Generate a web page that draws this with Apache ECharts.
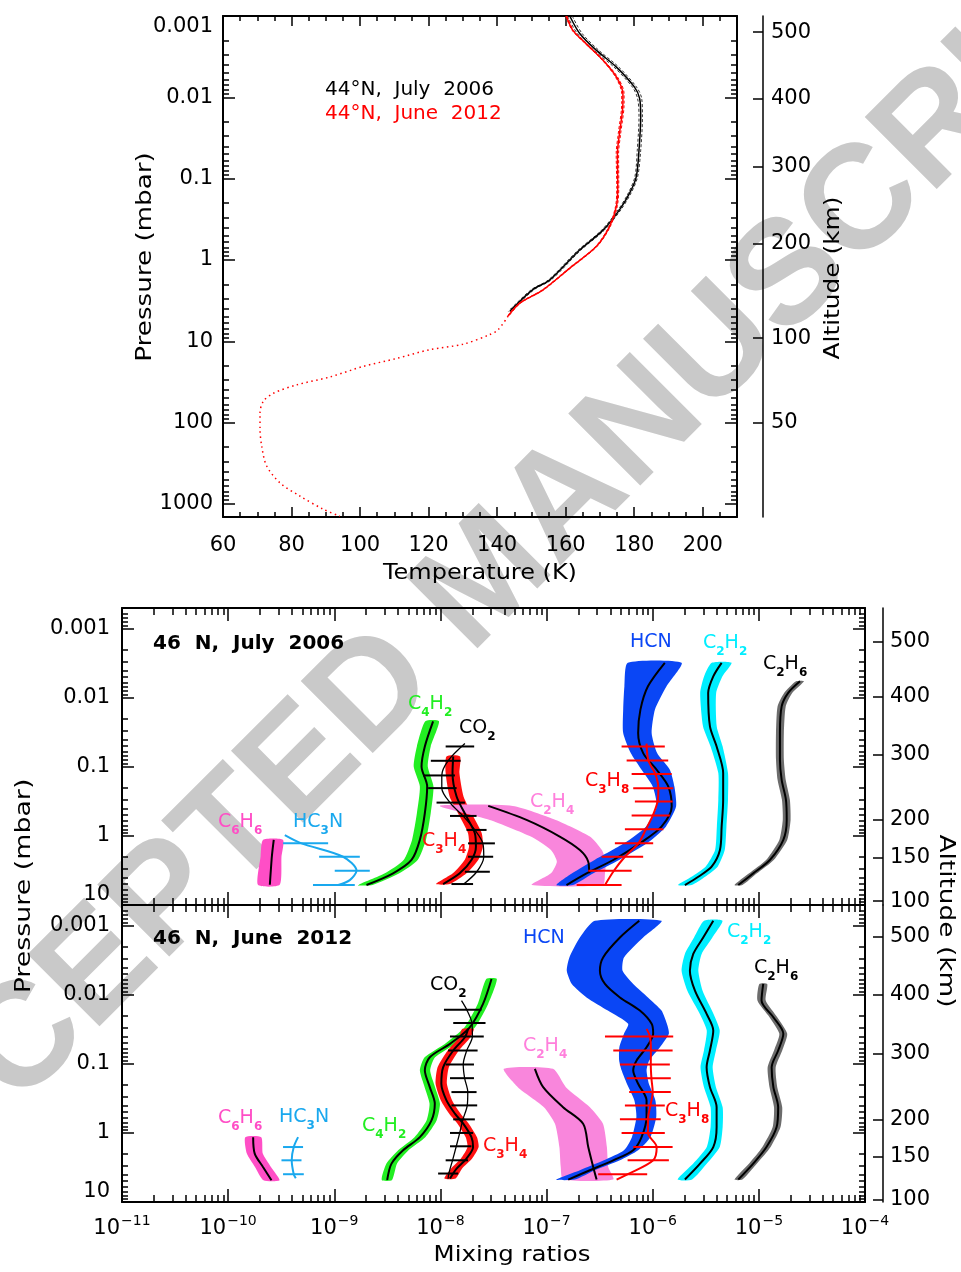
<!DOCTYPE html>
<html>
<head>
<meta charset="utf-8">
<title>Titan profiles</title>
<script src="https://cdn.jsdelivr.net/npm/echarts@6.0.0/dist/echarts.min.js"></script>
<style>
  html, body { margin: 0; padding: 0; background: #fff; }
  #chart { width: 961px; height: 1272px; }
</style>
</head>
<body>
<div id="chart"></div>
<script>
/* ---------- top panel: temperature profiles at 44N ---------- */
var tJuly_p   = [0.001, 0.00164, 0.00265, 0.00425, 0.0075, 0.0104, 0.0174, 0.0446, 0.095, 0.15, 0.242, 0.43, 0.76, 1.77, 2.3, 3.9, 4.3];
var tJuly_T   = [161.2, 164.1, 169.0, 174.8, 180.1, 181.6, 181.9, 181.4, 180.6, 178.7, 175.7, 170.9, 164.0, 155.3, 150.5, 144.6, 143.7];
var tJuly_err = [0.7, 0.7, 0.7, 0.7, 0.6, 0.6, 0.5, 0.5, 0.4, 0.4, 0.4, 0.4, 0.4, 0.4, 0.4, 0.4, 0.4];

var tJune_p   = [0.001, 0.0015, 0.0022, 0.0035, 0.0056, 0.009, 0.0119, 0.028, 0.049, 0.126, 0.22, 0.39, 0.68, 1.25, 2.33, 3.4, 4.9];
var tJune_T   = [160.2, 162.1, 166.0, 170.9, 174.8, 176.7, 176.7, 175.7, 175.1, 175.2, 174.8, 172.8, 169.0, 161.3, 153.4, 146.6, 143.2];
var tJune_err = [0.2, 0.2, 0.2, 0.2, 0.3, 0.35, 0.35, 0.35, 0.35, 0.3, 0.25, 0.2, 0.2, 0.2, 0.2, 0.2, 0.2];

var tDeep_p = [4.9, 7.2, 8.3, 10.9, 12.7, 16.3, 20.4, 27.5, 34.4, 43.6, 54.5, 76, 121, 195, 340, 550, 800, 1160, 1420];
var tDeep_T = [143.2, 140.3, 137.8, 130.0, 120.3, 110.6, 100.9, 91.2, 81.5, 74.7, 71.8, 70.8, 70.8, 71.3, 72.7, 76.6, 82.4, 89.2, 94.1];

var tempTicks = [60, 80, 100, 120, 140, 160, 180, 200];
var altTop_km = [500, 400, 300, 200, 100, 50];
var altTop_p  = [1.58e-3, 0.0104, 0.0716, 0.624, 9.14, 101];

/* ---------- middle panel: 46N, July 2006 ---------- */
var c6h6A_p  = [1.14, 2.0, 5.1];
var c6h6A_v  = [2.69e-10, 2.58e-10, 2.47e-10];
var c6h6A_lo = [2.13e-10, 2.02e-10, 1.91e-10];
var c6h6A_hi = [3.29e-10, 3.18e-10, 3.06e-10];

var hc3nA_p  = [0.97, 1.28, 2.0, 3.19, 4.36, 5.14];
var hc3nA_v  = [3.42e-10, 4.91e-10, 1.21e-9, 1.62e-9, 1.40e-9, 1.09e-9];
var hc3nA_bp = [1.28, 2.0, 3.19, 5.14];
var hc3nA_lo = [3.29e-10, 7.2e-10, 1.01e-9, 6.3e-10];
var hc3nA_hi = [8.75e-10, 1.74e-9, 2.16e-9, 1.56e-9];

var c4h2A_p  = [0.0219, 0.0506, 0.0987, 0.192, 0.469, 1.14, 2.23, 3.48, 5.14];
var c4h2A_v  = [8.53e-9, 7.13e-9, 6.64e-9, 7.5e-9, 7.13e-9, 6.4e-9, 5.34e-9, 3.58e-9, 2.01e-9];
var c4h2A_lo = [7.2e-9, 6.0e-9, 5.6e-9, 6.4e-9, 6.0e-9, 5.4e-9, 4.5e-9, 3.0e-9, 1.7e-9];
var c4h2A_hi = [9.7e-9, 8.1e-9, 7.6e-9, 8.6e-9, 8.1e-9, 7.3e-9, 6.1e-9, 4.1e-9, 2.3e-9];

var co2A_p  = [0.046, 0.0816, 0.133, 0.203, 0.329, 0.513, 0.818, 1.28, 2.0, 3.30, 4.97];
var co2A_v  = [1.70e-8, 1.18e-8, 1.03e-8, 1.03e-8, 1.23e-8, 1.63e-8, 2.11e-8, 2.51e-8, 2.56e-8, 2.20e-8, 1.66e-8];
var co2A_bp = [0.0506, 0.0816, 0.133, 0.203, 0.329, 0.513, 0.818, 1.28, 2.0, 3.30, 4.97];
var co2A_lo = [1.12e-8, 8.12e-9, 6.87e-9, 7.66e-9, 9.19e-9, 1.23e-8, 1.76e-8, 1.82e-8, 1.82e-8, 1.70e-8, 1.27e-8];
var co2A_hi = [2.08e-8, 1.55e-8, 1.37e-8, 1.42e-8, 1.70e-8, 2.19e-8, 2.72e-8, 3.26e-8, 3.14e-8, 2.92e-8, 2.03e-8];

var c3h4A_p  = [0.0706, 0.123, 0.269, 0.525, 0.914, 1.43, 2.23, 3.48, 4.97];
var c3h4A_v  = [1.32e-8, 1.30e-8, 1.42e-8, 1.76e-8, 2.11e-8, 2.16e-8, 1.96e-8, 1.52e-8, 1.06e-8];
var c3h4A_lo = [1.14e-8, 1.12e-8, 1.22e-8, 1.52e-8, 1.82e-8, 1.86e-8, 1.69e-8, 1.31e-8, 9.1e-9];
var c3h4A_hi = [1.53e-8, 1.51e-8, 1.65e-8, 2.04e-8, 2.45e-8, 2.51e-8, 2.27e-8, 1.76e-8, 1.23e-8];

var c2h4A_p  = [0.367, 0.586, 1.02, 1.60, 2.36, 3.48, 5.14];
var c2h4A_v  = [2.82e-8, 6.47e-8, 1.33e-7, 2.06e-7, 2.47e-7, 2.52e-7];
var c2h4A_lo = [9.87e-9, 2.92e-8, 7.11e-8, 1.10e-7, 1.25e-7, 1.10e-7, 7.26e-8];
var c2h4A_hi = [4.81e-8, 1.22e-7, 2.56e-7, 3.32e-7, 3.62e-7, 3.55e-7, 3.40e-7];

var hcnA_p  = [3.11e-3, 6.81e-3, 0.0148, 0.0323, 0.0631, 0.110, 0.192, 0.376, 0.733, 1.28, 2.23, 3.48, 5.14];
var hcnA_v  = [1.30e-6, 9.02e-7, 7.66e-7, 7.29e-7, 8.13e-7, 1.09e-6, 1.40e-6, 1.51e-6, 1.21e-6, 7.57e-7, 4.25e-7, 2.38e-7, 1.54e-7];
var hcnA_lo = [5.83e-7, 5.41e-7, 5.27e-7, 5.27e-7, 6.21e-7, 7.85e-7, 1.0e-6, 1.09e-6, 8.63e-7, 5.36e-7, 2.83e-7, 1.74e-7, 1.24e-7];
var hcnA_hi = [1.87e-6, 1.35e-6, 1.05e-6, 9.77e-7, 1.10e-6, 1.45e-6, 1.60e-6, 1.66e-6, 1.33e-6, 8.81e-7, 4.82e-7, 2.76e-7, 1.78e-7];

var c3h8A_p  = [0.046, 0.0807, 0.127, 0.203, 0.318, 0.507, 0.80, 1.28, 2.0, 3.19, 5.14];
var c3h8A_v  = [8.75e-7, 9.1e-7, 1.06e-6, 1.13e-6, 1.11e-6, 1.0e-6, 8.63e-7, 7.33e-7, 5.47e-7, 4.31e-7, 3.55e-7];
var c3h8A_bp = [0.0506, 0.0807, 0.127, 0.203, 0.318, 0.507, 0.80, 1.28, 2.0, 3.19, 5.14];
var c3h8A_lo = [5.09e-7, 5.68e-7, 6.33e-7, 6.55e-7, 6.79e-7, 6.33e-7, 5.47e-7, 4.40e-7, 3.30e-7, 2.47e-7, 1.92e-7];
var c3h8A_hi = [1.30e-6, 1.40e-6, 1.51e-6, 1.56e-6, 1.54e-6, 1.45e-6, 1.26e-6, 1.01e-6, 8.13e-7, 6.33e-7, 5.09e-7];

var c2h2A_p  = [3.11e-3, 4.88e-3, 8.49e-3, 0.0259, 0.0506, 0.123, 0.30, 0.733, 1.60, 2.79, 3.90, 5.14];
var c2h2A_v  = [4.46e-6, 3.72e-6, 3.33e-6, 3.46e-6, 4.0e-6, 4.61e-6, 4.61e-6, 4.46e-6, 4.30e-6, 3.59e-6, 2.69e-6, 2.01e-6];
var c2h2A_lo = [3.60e-6, 3.05e-6, 2.80e-6, 2.98e-6, 3.51e-6, 4.15e-6, 4.15e-6, 4.02e-6, 3.87e-6, 3.15e-6, 2.32e-6, 1.73e-6];
var c2h2A_hi = [5.53e-6, 4.54e-6, 3.96e-6, 4.01e-6, 4.56e-6, 5.12e-6, 5.12e-6, 4.95e-6, 4.77e-6, 4.09e-6, 3.12e-6, 2.33e-6];

var c2h6A_p  = [5.77e-3, 8.49e-3, 0.0133, 0.0323, 0.0789, 0.154, 0.30, 0.586, 1.14, 2.23, 3.48, 5.14];
var c2h6A_v  = [2.44e-5, 1.89e-5, 1.64e-5, 1.58e-5, 1.58e-5, 1.64e-5, 1.80e-5, 1.83e-5, 1.70e-5, 1.27e-5, 8.85e-6, 6.40e-6];
var c2h6A_lo = [2.24e-5, 1.73e-5, 1.50e-5, 1.45e-5, 1.45e-5, 1.50e-5, 1.65e-5, 1.68e-5, 1.56e-5, 1.17e-5, 8.1e-6, 5.9e-6];
var c2h6A_hi = [2.66e-5, 2.06e-5, 1.79e-5, 1.72e-5, 1.72e-5, 1.79e-5, 1.96e-5, 1.99e-5, 1.85e-5, 1.38e-5, 9.6e-6, 7.0e-6];

var altA_km = [500, 400, 300, 200, 150, 100];
var altA_p  = [1.55e-3, 9.7e-3, 0.0667, 0.586, 2.07, 8.78];

/* ---------- bottom panel: 46N, June 2012 ---------- */
var c6h6B_p  = [1.15, 1.99, 3.11, 4.84];
var c6h6B_v  = [1.72e-10, 1.78e-10, 2.13e-10, 2.56e-10];
var c6h6B_lo = [1.45e-10, 1.50e-10, 1.79e-10, 2.15e-10];
var c6h6B_hi = [2.05e-10, 2.12e-10, 2.53e-10, 3.05e-10];

var hc3nB_p  = [1.15, 1.60, 2.49, 3.96, 4.53];
var hc3nB_v  = [4.56e-10, 4.15e-10, 3.97e-10, 4.15e-10, 4.34e-10];
var hc3nB_bp = [1.60, 2.49, 3.96];
var hc3nB_lo = [3.29e-10, 3.18e-10, 3.29e-10];
var hc3nB_hi = [5.08e-10, 4.91e-10, 5.16e-10];

var c4h2B_p  = [5.89e-3, 0.0135, 0.0295, 0.0513, 0.080, 0.124, 0.217, 0.377, 0.658, 1.15, 1.78, 2.78, 4.8];
var c4h2B_v  = [3.03e-8, 2.52e-8, 1.89e-8, 1.23e-8, 7.94e-9, 7.13e-9, 7.94e-9, 8.85e-9, 8.24e-9, 6.40e-9, 4.45e-9, 3.46e-9, 3.15e-9];
var c4h2B_lo = [2.7e-8, 2.25e-8, 1.69e-8, 1.10e-8, 7.1e-9, 6.4e-9, 7.1e-9, 7.9e-9, 7.4e-9, 5.7e-9, 4.0e-9, 3.1e-9, 2.8e-9];
var c4h2B_hi = [3.4e-8, 2.82e-8, 2.12e-8, 1.38e-8, 8.9e-9, 8.0e-9, 8.9e-9, 9.9e-9, 9.2e-9, 7.2e-9, 5.0e-9, 3.9e-9, 3.5e-9];

var co2B_p  = [0.0121, 0.0164, 0.0255, 0.0402, 0.064, 0.102, 0.161, 0.256, 0.399, 0.636, 1.0, 1.56, 2.49, 3.87, 4.6];
var co2B_v  = [1.58e-8, 1.77e-8, 1.98e-8, 2.0e-8, 1.77e-8, 1.64e-8, 1.69e-8, 1.81e-8, 1.79e-8, 1.63e-8, 1.52e-8, 1.41e-8, 1.30e-8, 1.20e-8, 1.18e-8];
var co2B_bp = [0.0164, 0.0255, 0.0402, 0.064, 0.102, 0.161, 0.256, 0.399, 0.636, 1.0, 1.56, 2.49, 3.87];
var co2B_lo = [1.08e-8, 1.32e-8, 1.23e-8, 1.18e-8, 1.12e-8, 1.23e-8, 1.27e-8, 1.27e-8, 1.32e-8, 1.23e-8, 1.23e-8, 1.12e-8, 9.51e-9];
var co2B_hi = [2.44e-8, 2.66e-8, 2.56e-8, 2.24e-8, 2.07e-8, 2.07e-8, 2.19e-8, 2.22e-8, 2.11e-8, 2.03e-8, 1.96e-8, 1.82e-8, 1.47e-8];

var c3h4B_p  = [0.0311, 0.0411, 0.064, 0.112, 0.194, 0.338, 0.526, 0.734, 1.15, 1.60, 2.35, 3.28, 4.57];
var c3h4B_v  = [1.82e-8, 1.70e-8, 1.32e-8, 1.06e-8, 1.02e-8, 1.14e-8, 1.37e-8, 1.64e-8, 1.96e-8, 2.03e-8, 1.76e-8, 1.42e-8, 1.23e-8];
var c3h4B_lo = [1.61e-8, 1.50e-8, 1.17e-8, 9.4e-9, 9.0e-9, 1.01e-8, 1.21e-8, 1.45e-8, 1.73e-8, 1.80e-8, 1.56e-8, 1.26e-8, 1.09e-8];
var c3h4B_hi = [2.06e-8, 1.92e-8, 1.49e-8, 1.20e-8, 1.15e-8, 1.29e-8, 1.55e-8, 1.85e-8, 2.21e-8, 2.29e-8, 1.99e-8, 1.60e-8, 1.39e-8];

var c2h4B_p  = [0.118, 0.217, 0.423, 0.734, 1.60, 3.11, 4.73];
var c2h4B_v  = [7.76e-8, 9.29e-8, 1.43e-7, 2.21e-7, 2.47e-7, 2.75e-7, 2.96e-7];
var c2h4B_lo = [3.96e-8, 5.36e-8, 9.44e-8, 1.20e-7, 1.32e-7, 1.36e-7, 1.43e-7];
var c2h4B_hi = [1.15e-7, 1.52e-7, 2.56e-7, 3.40e-7, 3.70e-7, 3.81e-7, 4.25e-7];

var hcnB_p  = [8.47e-4, 1.48e-3, 2.87e-3, 4.47e-3, 6.96e-3, 0.0109, 0.0169, 0.0263, 0.0367, 0.0574, 0.0893, 0.124, 0.194, 0.338, 0.589, 1.15, 1.78, 2.49, 3.47, 4.73];
var hcnB_v  = [7.47e-7, 4.91e-7, 3.41e-7, 3.18e-7, 3.55e-7, 4.91e-7, 7.57e-7, 9.77e-7, 1.01e-6, 8.75e-7, 7.05e-7, 6.55e-7, 7.29e-7, 8.75e-7, 8.75e-7, 7.85e-7, 6.55e-7, 4.25e-7, 2.56e-7, 1.60e-7];
var hcnB_lo = [2.85e-7, 2.06e-7, 1.64e-7, 1.55e-7, 1.73e-7, 2.38e-7, 3.78e-7, 5.87e-7, 5.36e-7, 4.85e-7, 4.83e-7, 5.09e-7, 5.71e-7, 6.72e-7, 7.02e-7, 6.37e-7, 5.36e-7, 3.47e-7, 2.06e-7, 1.24e-7];
var hcnB_hi = [1.21e-6, 8.13e-7, 5.36e-7, 5.20e-7, 6.55e-7, 9.02e-7, 1.21e-6, 1.36e-6, 1.42e-6, 1.17e-6, 9.27e-7, 8.75e-7, 9.2e-7, 1.06e-6, 1.08e-6, 9.51e-7, 7.29e-7, 4.91e-7, 2.85e-7, 1.85e-7];

var c3h8B_p  = [0.0311, 0.0402, 0.064, 0.102, 0.161, 0.256, 0.399, 0.636, 1.0, 1.60, 2.49, 3.96, 4.73];
var c3h8B_v  = [8.75e-7, 9.42e-7, 9.61e-7, 9.59e-7, 9.72e-7, 1.0e-6, 9.51e-7, 9.02e-7, 9.02e-7, 1.09e-6, 1.01e-6, 5.83e-7, 4.57e-7];
var c3h8B_bp = [0.0402, 0.064, 0.102, 0.161, 0.256, 0.399, 0.636, 1.0, 1.60, 2.49, 3.96];
var c3h8B_lo = [3.55e-7, 4.25e-7, 4.91e-7, 5.68e-7, 6.0e-7, 5.47e-7, 4.91e-7, 5.09e-7, 6.55e-7, 5.80e-7, 3.06e-7];
var c3h8B_hi = [1.56e-6, 1.54e-6, 1.45e-6, 1.48e-6, 1.48e-6, 1.30e-6, 1.19e-6, 1.30e-6, 1.54e-6, 1.42e-6, 8.87e-7];

var c2h2B_p  = [8.47e-4, 1.48e-3, 2.56e-3, 4.47e-3, 8.7e-3, 0.0189, 0.0329, 0.064, 0.112, 0.217, 0.423, 0.822, 1.60, 2.78, 4.73];
var c2h2B_v  = [3.72e-6, 2.99e-6, 2.41e-6, 2.24e-6, 2.50e-6, 3.22e-6, 3.72e-6, 3.46e-6, 3.22e-6, 3.46e-6, 4.0e-6, 4.0e-6, 3.72e-6, 2.79e-6, 2.01e-6];
var c2h2B_lo = [3.05e-6, 2.45e-6, 2.01e-6, 1.87e-6, 2.12e-6, 2.78e-6, 3.23e-6, 3.04e-6, 2.82e-6, 3.04e-6, 3.51e-6, 3.51e-6, 3.23e-6, 2.41e-6, 1.72e-6];
var c2h2B_hi = [4.54e-6, 3.65e-6, 2.89e-6, 2.69e-6, 2.95e-6, 3.74e-6, 4.28e-6, 3.94e-6, 3.67e-6, 3.94e-6, 4.56e-6, 4.56e-6, 4.28e-6, 3.24e-6, 2.35e-6];

var c2h6B_p  = [6.96e-3, 0.0121, 0.0211, 0.0367, 0.064, 0.112, 0.217, 0.423, 0.822, 1.60, 2.78, 4.73];
var c2h6B_v  = [1.10e-5, 1.06e-5, 1.37e-5, 1.70e-5, 1.52e-5, 1.32e-5, 1.37e-5, 1.52e-5, 1.47e-5, 1.18e-5, 8.85e-6, 6.40e-6];
var c2h6B_lo = [1.01e-5, 9.7e-6, 1.26e-5, 1.56e-5, 1.39e-5, 1.21e-5, 1.26e-5, 1.39e-5, 1.35e-5, 1.08e-5, 8.1e-6, 5.9e-6];
var c2h6B_hi = [1.20e-5, 1.16e-5, 1.49e-5, 1.85e-5, 1.66e-5, 1.44e-5, 1.49e-5, 1.66e-5, 1.60e-5, 1.29e-5, 9.6e-6, 7.0e-6];

var altB_km = [500, 400, 300, 200, 150, 100];
var altB_p  = [1.43e-3, 0.01, 0.0715, 0.636, 2.23, 9.2];

/* ---------- colours ---------- */
var COL = {
  c6h6: '#ff4ec6', hc3n: '#19a8ee', c4h2: '#22ee22', c3h4: '#ff1010',
  c2h4: '#f986dc', c2h4t: '#ff80dc', hcn: '#0a46f5', c3h8: '#ff0000',
  c2h2: '#00eeff', c2h6: '#6c6c6c'
};
var FONT = '"DejaVu Sans", sans-serif';

/* ---------- helpers ---------- */
function decades(lo, hi) {
  var out = [];
  for (var n = Math.ceil(Math.log10(lo) - 1e-9); n <= Math.floor(Math.log10(hi) + 1e-9); n++) out.push(Number('1e' + n));
  return out;
}
function minors(lo, hi) {
  var out = [];
  for (var n = Math.floor(Math.log10(lo)); n <= Math.floor(Math.log10(hi)); n++) {
    for (var k = 2; k <= 9; k++) {
      var v = Number(k + 'e' + n);
      if (v > lo * 1.0001 && v < hi * 0.9999) out.push(v);
    }
  }
  return out;
}
function fmtP(v) {
  var n = Math.round(Math.log10(v));
  return n < 0 ? '0.' + '0000000'.slice(0, -n - 1) + '1' : '1' + '0000000'.slice(0, n);
}
function fmtExp(v) {
  var n = Math.round(Math.log10(v));
  return '{b|10}{s|' + (n < 0 ? '\u2212' : '') + Math.abs(n) + '}';
}
function altFmt(ps, kms) {
  return function (v) {
    var best = 0, d = 1e9;
    for (var i = 0; i < ps.length; i++) {
      var dd = Math.abs(Math.log10(v) - Math.log10(ps[i]));
      if (dd < d) { d = dd; best = i; }
    }
    return String(kms[best]);
  };
}
function mkAxis(grid, type, min, max, pos, ticks, len, opt) {
  opt = opt || {};
  var a = {
    type: type, gridIndex: grid, min: min, max: max, position: pos,
    inverse: !!opt.inverse, offset: opt.offset || 0,
    axisLine: {show: !!opt.line, onZero: false, lineStyle: {color: '#000', width: opt.lineWidth || 2}},
    axisTick: {show: true, inside: true, length: len, customValues: ticks, lineStyle: {color: '#000', width: 1.5}},
    axisLabel: opt.label || {show: false},
    splitLine: {show: false},
    axisPointer: {show: false}
  };
  if (type === 'log') a.logBase = 10;
  return a;
}
function lab(values, fmt, margin, extra) {
  var l = {show: true, customValues: values, formatter: fmt, margin: margin, color: '#000', fontSize: 21, fontFamily: FONT};
  for (var k in extra) l[k] = extra[k];
  return l;
}

var xAxes = [], yAxes = [];

/* top grid (0): x 0-3, y 0-4 */
var tMinor = [];
for (var t = 65; t < 210; t += 5) if (tempTicks.indexOf(t) < 0) tMinor.push(t);
xAxes.push(mkAxis(0, 'value', 60, 210, 'bottom', tempTicks, 10, {line: true, label: lab(tempTicks, '{value}', 18)}));
xAxes.push(mkAxis(0, 'value', 60, 210, 'bottom', tMinor, 5));
xAxes.push(mkAxis(0, 'value', 60, 210, 'top', tempTicks, 10, {line: true}));
xAxes.push(mkAxis(0, 'value', 60, 210, 'top', tMinor, 5));
var PT0 = 0.001, PT1 = 1450;
yAxes.push(mkAxis(0, 'log', PT0, PT1, 'left', decades(PT0, PT1), 12, {inverse: true, line: true,
  label: lab(decades(PT0, PT1), fmtP, 10, {verticalAlignMinLabel: 'top'})}));
yAxes.push(mkAxis(0, 'log', PT0, PT1, 'left', minors(PT0, PT1), 6, {inverse: true}));
yAxes.push(mkAxis(0, 'log', PT0, PT1, 'right', decades(PT0, PT1), 12, {inverse: true, line: true}));
yAxes.push(mkAxis(0, 'log', PT0, PT1, 'right', minors(PT0, PT1), 6, {inverse: true}));
yAxes.push(mkAxis(0, 'log', PT0, PT1, 'right', altTop_p, 10, {inverse: true, line: true, lineWidth: 1.5, offset: 26,
  label: lab(altTop_p, altFmt(altTop_p, altTop_km), 8)}));

/* mixing-ratio grids (1, 2) */
var X0 = 1e-11, X1 = 1e-4, P0 = 0.0005, P1 = 10;
var expRich = {
  b: {fontSize: 21, fontFamily: FONT, color: '#000', verticalAlign: 'bottom'},
  s: {fontSize: 14, fontFamily: FONT, color: '#000', verticalAlign: 'bottom', padding: [0, 0, 11, 1]}
};
function mixAxes(grid, withX, altP, altKm) {
  var xi = xAxes.length, yi = yAxes.length;
  xAxes.push(mkAxis(grid, 'log', X0, X1, 'bottom', decades(X0, X1), 13, {line: true,
    label: withX ? lab(decades(X0, X1), fmtExp, 12, {rich: expRich}) : null}));
  xAxes.push(mkAxis(grid, 'log', X0, X1, 'bottom', minors(X0, X1), 7));
  xAxes.push(mkAxis(grid, 'log', X0, X1, 'top', decades(X0, X1), 13, {line: true}));
  xAxes.push(mkAxis(grid, 'log', X0, X1, 'top', minors(X0, X1), 7));
  yAxes.push(mkAxis(grid, 'log', P0, P1, 'left', decades(P0, P1), 12, {inverse: true, line: true,
    label: lab(decades(P0, P1), fmtP, 12, {verticalAlignMaxLabel: 'bottom'})}));
  yAxes.push(mkAxis(grid, 'log', P0, P1, 'left', minors(P0, P1), 6, {inverse: true}));
  yAxes.push(mkAxis(grid, 'log', P0, P1, 'right', decades(P0, P1), 12, {inverse: true, line: true}));
  yAxes.push(mkAxis(grid, 'log', P0, P1, 'right', minors(P0, P1), 6, {inverse: true}));
  yAxes.push(mkAxis(grid, 'log', P0, P1, 'right', altP, 10, {inverse: true, line: true, lineWidth: 1.5, offset: 18,
    label: lab(altP, altFmt(altP, altKm), 7)}));
  return [xi, yi];
}
var gA = mixAxes(1, false, altA_p, altA_km);
var gB = mixAxes(2, true, altB_p, altB_km);

/* ---------- series builders ---------- */
var series = [];
function band(g, p, lo, hi, color) {
  var pts = p.map(function (v, i) { return [lo[i], hi[i], v]; });
  series.push({
    type: 'custom', xAxisIndex: g[0], yAxisIndex: g[1], data: pts, silent: true, z: 2,
    encode: {x: [0, 1], y: 2},
    renderItem: function (params, api) {
      if (params.dataIndex !== 0) return null;
      var left = pts.map(function (d) { return api.coord([d[0], d[2]]); });
      var right = pts.map(function (d) { return api.coord([d[1], d[2]]); }).reverse();
      return {type: 'polygon', shape: {points: left.concat(right), smooth: 0.2}, style: {fill: color}};
    }
  });
}
function curve(g, p, v, color, width, dash, z) {
  series.push({
    type: 'line', xAxisIndex: g[0], yAxisIndex: g[1], silent: true, z: z || 3,
    data: v.map(function (x, i) { return [x, p[i]]; }),
    showSymbol: false, symbol: 'none', smooth: 0.3,
    lineStyle: {color: color, width: width, type: dash || 'solid'}
  });
}
function bars(g, p, lo, hi, color, width) {
  series.push({
    type: 'custom', xAxisIndex: g[0], yAxisIndex: g[1], silent: true, z: 4,
    data: p.map(function (v, i) { return [lo[i], hi[i], v]; }),
    encode: {x: [0, 1], y: 2},
    renderItem: function (params, api) {
      var a = api.coord([api.value(0), api.value(2)]);
      var b = api.coord([api.value(1), api.value(2)]);
      return {type: 'line', shape: {x1: a[0], y1: a[1], x2: b[0], y2: b[1]}, style: {stroke: color, lineWidth: width}};
    }
  });
}

/* temperature panel */
var gT = [0, 0];
function shift(arr, err, s) { return arr.map(function (t, i) { return t + s * err[i]; }); }
curve(gT, tJuly_p, shift(tJuly_T, tJuly_err, 1), '#333', 1, [3, 2]);
curve(gT, tJuly_p, shift(tJuly_T, tJuly_err, -1), '#333', 1, [3, 2]);
curve(gT, tJuly_p, tJuly_T, '#000', 1.5);
curve(gT, tJune_p, shift(tJune_T, tJune_err, 1), '#ff0000', 1, [3, 2]);
curve(gT, tJune_p, shift(tJune_T, tJune_err, -1), '#ff0000', 1, [3, 2]);
curve(gT, tJune_p, tJune_T, '#ff0000', 1.5);
curve(gT, tDeep_p, tDeep_T, '#ff0000', 1.5, [1.5, 3.5]);

/* panel A */
band(gA, c6h6A_p, c6h6A_lo, c6h6A_hi, COL.c6h6);
band(gA, c4h2A_p, c4h2A_lo, c4h2A_hi, COL.c4h2);
band(gA, c3h4A_p, c3h4A_lo, c3h4A_hi, COL.c3h4);
band(gA, c2h4A_p, c2h4A_lo, c2h4A_hi, COL.c2h4);
band(gA, hcnA_p, hcnA_lo, hcnA_hi, COL.hcn);
band(gA, c2h2A_p, c2h2A_lo, c2h2A_hi, COL.c2h2);
band(gA, c2h6A_p, c2h6A_lo, c2h6A_hi, COL.c2h6);
curve(gA, c6h6A_p, c6h6A_v, '#000', 2);
curve(gA, c4h2A_p, c4h2A_v, '#000', 2);
curve(gA, c3h4A_p, c3h4A_v, '#000', 2);
curve(gA, c2h4A_p, c2h4A_v, '#000', 2);
curve(gA, hcnA_p, hcnA_v, '#000', 2);
curve(gA, c2h2A_p, c2h2A_v, '#000', 2);
curve(gA, c2h6A_p, c2h6A_v, '#000', 2);
curve(gA, hc3nA_p, hc3nA_v, COL.hc3n, 2);
curve(gA, co2A_p, co2A_v, '#000', 1.3);
curve(gA, c3h8A_p, c3h8A_v, COL.c3h8, 2);
bars(gA, hc3nA_bp, hc3nA_lo, hc3nA_hi, COL.hc3n, 2);
bars(gA, co2A_bp, co2A_lo, co2A_hi, '#000', 2);
bars(gA, c3h8A_bp, c3h8A_lo, c3h8A_hi, COL.c3h8, 2);

/* panel B */
band(gB, c6h6B_p, c6h6B_lo, c6h6B_hi, COL.c6h6);
band(gB, c4h2B_p, c4h2B_lo, c4h2B_hi, COL.c4h2);
band(gB, c3h4B_p, c3h4B_lo, c3h4B_hi, COL.c3h4);
band(gB, c2h4B_p, c2h4B_lo, c2h4B_hi, COL.c2h4);
band(gB, hcnB_p, hcnB_lo, hcnB_hi, COL.hcn);
band(gB, c2h2B_p, c2h2B_lo, c2h2B_hi, COL.c2h2);
band(gB, c2h6B_p, c2h6B_lo, c2h6B_hi, COL.c2h6);
curve(gB, c6h6B_p, c6h6B_v, '#000', 2);
curve(gB, c4h2B_p, c4h2B_v, '#000', 2);
curve(gB, c3h4B_p, c3h4B_v, '#000', 2);
curve(gB, c2h4B_p, c2h4B_v, '#000', 2);
curve(gB, hcnB_p, hcnB_v, '#000', 2);
curve(gB, c2h2B_p, c2h2B_v, '#000', 2);
curve(gB, c2h6B_p, c2h6B_v, '#000', 2);
curve(gB, hc3nB_p, hc3nB_v, COL.hc3n, 2);
curve(gB, co2B_p, co2B_v, '#000', 1.3);
curve(gB, c3h8B_p, c3h8B_v, COL.c3h8, 2);
bars(gB, hc3nB_bp, hc3nB_lo, hc3nB_hi, COL.hc3n, 2);
bars(gB, co2B_bp, co2B_lo, co2B_hi, '#000', 2);
bars(gB, c3h8B_bp, c3h8B_lo, c3h8B_hi, COL.c3h8, 2);

/* ---------- text ---------- */
function text(str, x, y, o) {
  o = o || {};
  return {
    type: 'text', x: x, y: y, rotation: o.rot || 0, scaleX: o.sx || 1, z: o.z == null ? 50 : o.z, silent: true,
    style: {text: str, fill: o.color || '#000', align: o.align || 'center', verticalAlign: 'middle',
      font: (o.weight || 'normal') + ' ' + (o.size || 22) + 'px ' + (o.family || FONT)}
  };
}
function chem(name, x, y, color) {
  var s = '';
  for (var i = 0; i < name.length; i++) {
    var c = name.charAt(i);
    s += /[0-9]/.test(c) ? '{s|' + c + '}' : '{m|' + c + '}';
  }
  return {
    type: 'text', x: x, y: y, z: 60, silent: true,
    style: {text: s, align: 'left', verticalAlign: 'middle', rich: {
      m: {fill: color, fontSize: 19, fontFamily: FONT, verticalAlign: 'bottom', padding: [0, 0, 5, 0]},
      s: {fill: color, fontSize: 12, fontWeight: 'bold', fontFamily: FONT, verticalAlign: 'bottom'}
    }}
  };
}

var graphics = [
  text('ACCEPTED MANUSCRIPT', 488, 580, {rot: Math.PI / 4, z: -10, color: '#c9c9c9', weight: 'bold', size: 148, family: '"Liberation Sans", sans-serif'}),
  text('Pressure (mbar)', 145, 257, {rot: Math.PI / 2, sx: 1.19}),
  text('Altitude (km)', 833, 278, {rot: Math.PI / 2, sx: 1.13}),
  text('Temperature (K)', 480, 573, {sx: 1.09}),
  text('44\u00b0N,  July  2006', 325, 90, {align: 'left', size: 20}),
  text('44\u00b0N,  June  2012', 325, 114, {align: 'left', size: 20, color: '#ff0000'}),
  text('Pressure (mbar)', 24, 886, {rot: Math.PI / 2, sx: 1.22}),
  text('Altitude (km)', 946, 921, {rot: -Math.PI / 2, sx: 1.2}),
  text('Mixing ratios', 512, 1255, {sx: 1.11}),
  text('46  N,  July  2006', 153, 644, {align: 'left', size: 20, weight: 'bold'}),
  text('46  N,  June  2012', 153, 939, {align: 'left', size: 20, weight: 'bold'}),
  chem('C6H6', 218, 825, COL.c6h6), chem('HC3N', 293, 825, COL.hc3n), chem('C4H2', 408, 707, COL.c4h2),
  chem('CO2', 459, 731, '#000'), chem('C3H4', 422, 844, COL.c3h4), chem('C2H4', 530, 805, COL.c2h4t),
  chem('C3H8', 585, 784, COL.c3h8), chem('HCN', 630, 645, COL.hcn), chem('C2H2', 703, 646, COL.c2h2),
  chem('C2H6', 763, 667, '#000'),
  chem('C6H6', 218, 1121, COL.c6h6), chem('HC3N', 279, 1120, COL.hc3n), chem('C4H2', 362, 1129, COL.c4h2),
  chem('CO2', 430, 988, '#000'), chem('C3H4', 483, 1149, COL.c3h4), chem('C2H4', 523, 1049, COL.c2h4t),
  chem('C3H8', 665, 1114, COL.c3h8), chem('HCN', 523, 941, COL.hcn), chem('C2H2', 727, 935, COL.c2h2),
  chem('C2H6', 754, 971, '#000')
];

var chart = echarts.init(document.getElementById('chart'), null, {renderer: 'canvas', width: 961, height: 1272});
chart.setOption({
  animation: false,
  backgroundColor: '#fff',
  grid: [
    {left: 223, top: 16, width: 514, height: 501},
    {left: 122, top: 608, width: 743, height: 297},
    {left: 122, top: 905, width: 743, height: 297}
  ],
  xAxis: xAxes,
  yAxis: yAxes,
  series: series,
  graphic: {elements: graphics}
});
</script>
</body>
</html>
